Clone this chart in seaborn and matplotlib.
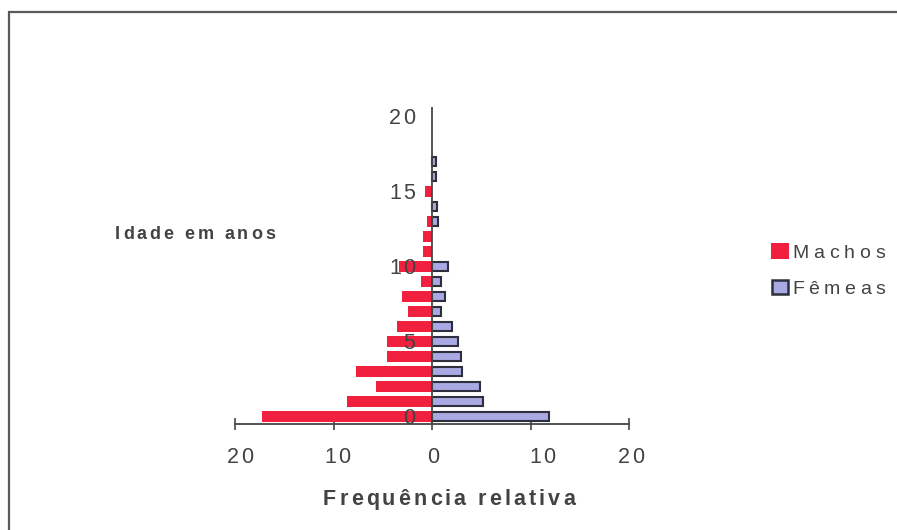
import matplotlib
matplotlib.use("Agg")
import matplotlib.pyplot as plt
import numpy as np
import pandas as pd
import seaborn as sns
from matplotlib.font_manager import FontProperties
from matplotlib.transforms import IdentityTransform
from matplotlib.patches import Rectangle

# Relative frequency (%) by age class
idades = list(range(18))
machos = [17.26, 8.59, 5.65, 7.75, 4.63, 4.63, 3.61, 2.50, 3.01, 1.18,
          3.38, 0.92, 0.95, 0.50, 0.0, 0.70, 0.0, 0.0]
femeas = [11.83, 5.11, 4.87, 3.04, 2.88, 2.64, 2.03, 0.85, 1.29, 0.85,
          1.56, 0.0, 0.0, 0.55, 0.45, 0.0, 0.40, 0.40]

x_ticks = [-20, -10, 0, 10, 20]
x_tick_labels = ["20", "10", "0", "10", "20"]
y_ticks = [0, 5, 10, 15, 20]
y_tick_labels = ["0", "5", "10", "15", "20"]
serie_nomes = ["Machos", "Fêmeas"]

RED = "#f0203e"
LAV = "#a9a9e4"
EDGE = "#2e2e3c"
INK = "#434343"
AXC = "#474747"

W, H = 897, 530

sns.set_theme(style="white")
plt.rcParams["font.family"] = ["Liberation Sans", "DejaVu Sans"]

fig = plt.figure(figsize=(W / 100, H / 100), dpi=100)
fig.patch.set_facecolor("white")
ax = fig.add_axes([235 / W, (H - 424) / H, (629.3 - 235) / W, (424 - 107) / H])
ax.set_facecolor("none")

df_m = pd.DataFrame({"idade": idades, "freq": [-v for v in machos]})
df_m = df_m[df_m["freq"] != 0]
df_f = pd.DataFrame({"idade": idades, "freq": femeas})
df_f = df_f[df_f["freq"] != 0]

sns.barplot(data=df_m, x="freq", y="idade", orient="y", native_scale=True,
            width=0.68, color=RED, saturation=1, edgecolor="none",
            linewidth=0, errorbar=None, ax=ax)
sns.barplot(data=df_f, x="freq", y="idade", orient="y", native_scale=True,
            width=0.62, color=LAV, saturation=1, edgecolor=EDGE,
            linewidth=1.5, errorbar=None, ax=ax)

ax.set_xlim(-20, 20)
ax.set_ylim(-0.5, 20.63)
ax.set_xlabel("")
ax.set_ylabel("")
for s in ("top", "right", "left"):
    ax.spines[s].set_visible(False)
ax.spines["bottom"].set_color(AXC)
ax.spines["bottom"].set_linewidth(1.3)
ax.axvline(0, color=AXC, lw=1.3, zorder=4)

ax.set_xticks(x_ticks)
ax.tick_params(axis="x", bottom=True, direction="inout", length=9, width=1.2,
               color=AXC, labelbottom=False)
ax.set_yticks(y_ticks)
ax.tick_params(axis="y", left=False, labelleft=False)

renderer = fig.canvas.get_renderer()
ident = IdentityTransform()


def spaced_text(s, x, y_top_baseline, size, weight="normal", width=None,
                gap=0.0, ha="center", color=INK):
    """Draw a string with extra letter spacing; y is the baseline (px from top)."""
    prop = FontProperties(family="Liberation Sans", size=size, weight=weight)

    def tw(t):
        return renderer.get_text_width_height_descent(t, prop, ismath=False)[0]

    wx = tw("x")
    base = tw(s)
    n = len(s)
    if width is not None and n > 1:
        gap = (width - base) / (n - 1)
    total = base + gap * (n - 1)
    if ha == "center":
        x0 = x - total / 2
    elif ha == "right":
        x0 = x - total
    else:
        x0 = x
    yb = H - y_top_baseline
    for i, ch in enumerate(s):
        off = (tw(s[:i] + "x") - wx) if i else 0.0
        fig.text(x0 + off + gap * i, yb, ch, fontproperties=prop, color=color,
                 ha="left", va="baseline", transform=ident)


TICK_SIZE = 15.5
TICK_GAP = 2.0
# horizontal nudge of each x tick label from its tick, in px
x_label_shift = [5, 4, 1, 12, 2]

# x tick labels
for t, lab, dx in zip(x_ticks, x_tick_labels, x_label_shift):
    px = ax.transData.transform((t, 0))[0]
    spaced_text(lab, px + dx, 463, TICK_SIZE, gap=TICK_GAP)

# y tick labels, right-aligned left of the vertical axis
for t, lab in zip(y_ticks, y_tick_labels):
    py = ax.transData.transform((0, t))[1]
    spaced_text(lab, 415, (H - py) + 8.0, TICK_SIZE, gap=TICK_GAP, ha="right")

# axis titles
spaced_text("Frequência relativa", 449, 505, 15.5, weight="bold", width=252)
spaced_text("Idade em anos", 115, 239, 13, weight="bold", width=160, ha="left")

# legend
fig.patches.append(Rectangle((771, H - 259), 18, 16, transform=ident,
                             facecolor=RED, edgecolor="none", figure=fig))
fig.patches.append(Rectangle((772, H - 294), 16, 14, transform=ident,
                             facecolor=LAV, edgecolor=EDGE, lw=1.8, figure=fig))
spaced_text(serie_nomes[0], 792, 258, 14, width=93, ha="left")
spaced_text(serie_nomes[1], 792, 294, 14, width=93, ha="left")

# outer frame
fig.patches.append(Rectangle((9, -20), 920, H - 12 + 20, transform=ident,
                             facecolor="none", edgecolor="#5a5a5a", lw=1.6,
                             figure=fig))

fig.savefig("out.png", dpi=100)
